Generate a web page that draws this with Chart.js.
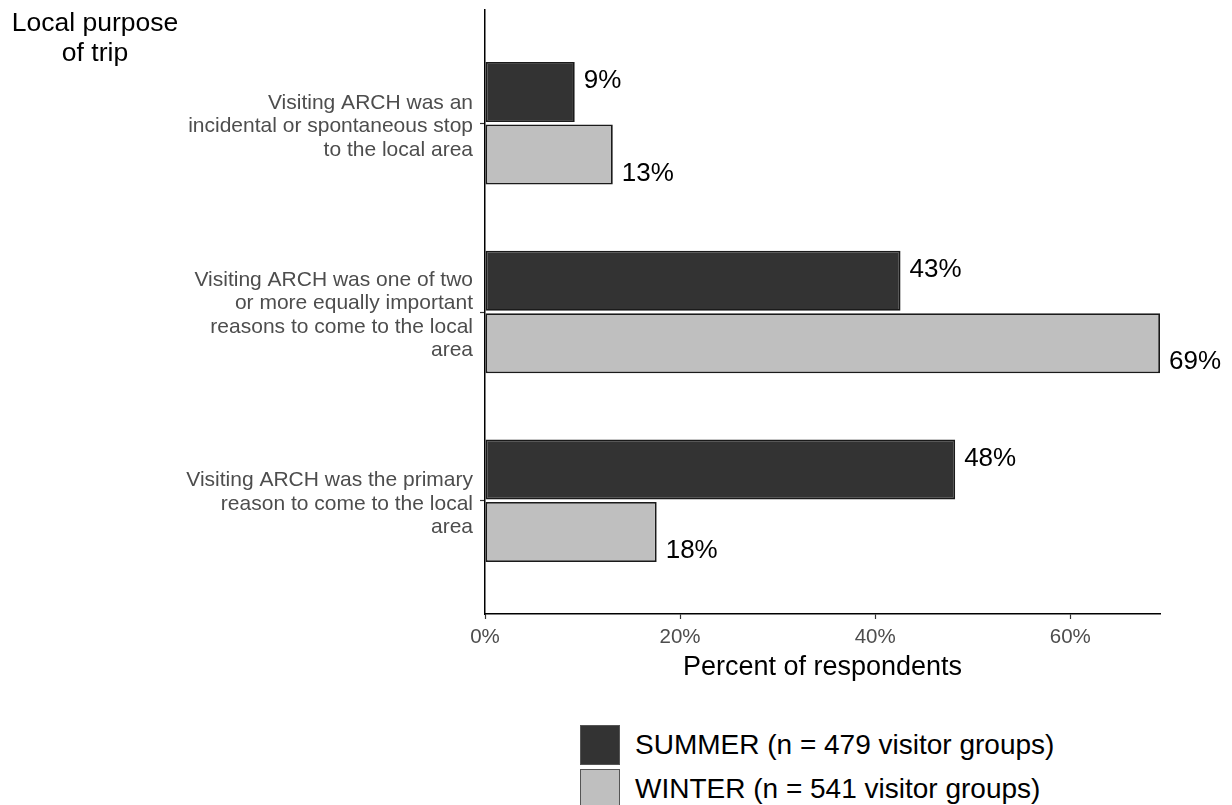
<!DOCTYPE html>
<html>
<head>
<meta charset="utf-8">
<script src="https://cdn.jsdelivr.net/npm/chart.js@4/dist/chart.umd.min.js"></script>
<style>
  body { margin: 0; background: #fff; font-family: 'Liberation Sans', Arial, sans-serif; }
  .wrap { position: relative; width: 1232px; height: 805px; overflow: hidden; }
  #chart { position: absolute; left: 0; top: 0; }
  .ytitle { position: absolute; left: 0; top: 7px; width: 190px; text-align: center; font-size: 26.5px; line-height: 30px; color: #000; }
  .legend { position: absolute; left: 580px; top: 723px; }
  .legend .row { display: flex; align-items: center; height: 44px; }
  .legend .box { width: 38px; height: 38px; border: 1.5px solid #555; margin-right: 15px; }
  .legend .lbl { font-size: 28px; color: #000; }
</style>
</head>
<body>
<div class="wrap">
  <canvas id="chart"></canvas>
  <div class="ytitle">Local purpose<br>of trip</div>
  <div class="legend" id="legend"></div>
</div>
<script>
const categories = [
    ['Visiting ARCH was an', 'incidental or spontaneous stop', 'to the local area'],
    ['Visiting ARCH was one of two', 'or more equally important', 'reasons to come to the local', 'area'],
    ['Visiting ARCH was the primary', 'reason to come to the local', 'area']
];
const seriesNames = ['SUMMER (n = 479 visitor groups)', 'WINTER (n = 541 visitor groups)'];
const summer = [9.2, 42.6, 48.2];
const winter = [13.1, 69.2, 17.6];
const xTicks = [0, 20, 40, 60];
const colors = ['#333333', '#bfbfbf'];

const FONT = "'Liberation Sans', Arial, sans-serif";

// value labels next to the bars
const barLabels = {
    id: 'barLabels',
    afterDatasetsDraw(chart) {
        const ctx = chart.ctx;
        ctx.save();
        ctx.font = '26px ' + FONT;
        ctx.fillStyle = '#000';
        ctx.textAlign = 'left';
        ctx.textBaseline = 'middle';
        chart.data.datasets.forEach((ds, di) => {
            const meta = chart.getDatasetMeta(di);
            meta.data.forEach((bar, i) => {
                const dy = di === 0 ? -11 : 19;
                ctx.fillText(Math.round(ds.data[i].x) + '%', bar.x + 9, bar.y + dy);
            });
        });
        ctx.restore();
    }
};

const canvas = document.getElementById('chart');
canvas.width = 1232;
canvas.height = 700;

new Chart(canvas.getContext('2d'), {
    type: 'bar',
    data: {
        datasets: [summer, winter].map((vals, di) => ({
            label: seriesNames[di],
            data: vals.map((v, i) => ({ x: v, y: i })),
            backgroundColor: colors[di],
            borderColor: '#1a1a1a',
            borderWidth: 1.8,
            borderSkipped: false,
            categoryPercentage: 0.662,
            barPercentage: 0.96
        }))
    },
    options: {
        indexAxis: 'y',
        responsive: false,
        animation: false,
        layout: { padding: { top: 10, right: 72, bottom: 14, left: 0 } },
        plugins: {
            legend: { display: false },
            tooltip: { enabled: false }
        },
        scales: {
            y: {
                type: 'linear',
                min: -0.6,
                max: 2.6,
                offset: false,
                reverse: true,
                afterBuildTicks: s => { s.ticks = categories.map((c, i) => ({ value: i })); },
                afterFit: s => { s.width = 485; s.paddingTop = 0; s.paddingBottom = 0; },
                ticks: {
                    callback: v => categories[v],
                    font: { family: FONT, size: 21, lineHeight: 1.12 },
                    color: '#4d4d4d',
                    padding: 7,
                    labelOffset: 3
                },
                grid: { offset: false, drawOnChartArea: false, drawTicks: true, tickLength: 5, tickColor: '#333', tickWidth: 1.2 },
                border: { display: true, color: '#000', width: 1.5 }
            },
            x: {
                min: 0,
                max: 69.2,
                afterBuildTicks: s => { s.ticks = xTicks.map(v => ({ value: v })); },
                afterFit: s => { s.height = 72; },
                ticks: {
                    callback: v => v + '%',
                    font: { family: FONT, size: 20.5 },
                    color: '#4d4d4d',
                    padding: 6
                },
                grid: { drawOnChartArea: false, drawTicks: true, tickLength: 5, tickColor: '#333', tickWidth: 1.2 },
                border: { display: true, color: '#000', width: 1.5 },
                title: {
                    display: true,
                    text: 'Percent of respondents',
                    font: { family: FONT, size: 27 },
                    color: '#000',
                    padding: { top: 0, bottom: 2 }
                }
            }
        }
    },
    plugins: [barLabels]
});

// legend below the chart
const legend = document.getElementById('legend');
seriesNames.forEach((name, i) => {
    const row = document.createElement('div');
    row.className = 'row';
    row.innerHTML = '<div class="box" style="background:' + colors[i] + '"></div><div class="lbl">' + name + '</div>';
    legend.appendChild(row);
});
</script>
</body>
</html>
